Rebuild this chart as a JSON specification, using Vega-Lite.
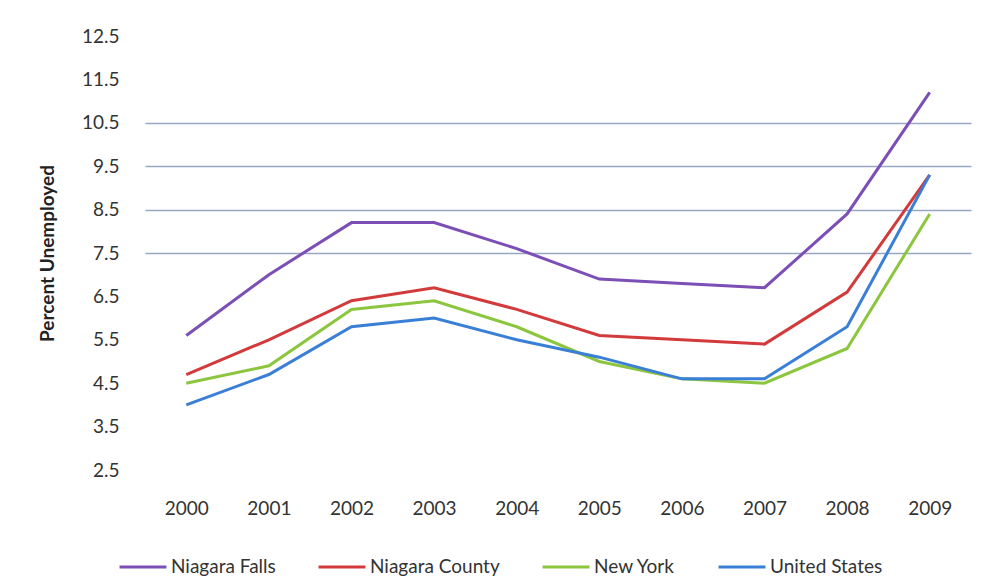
{
  "$schema": "https://vega.github.io/schema/vega-lite/v6.json",
  "autosize": {"type": "none"},
  "width": 826,
  "height": 434,
  "padding": {"left": 145, "top": 36, "right": 12, "bottom": 108},
  "background": "white",
  "config": {
    "view": {"stroke": null},
    "font": "Lato"
  },
  "data": {
    "values": [
      {"year": "2000", "series": "Niagara Falls", "rate": 5.6},
      {"year": "2001", "series": "Niagara Falls", "rate": 7.0},
      {"year": "2002", "series": "Niagara Falls", "rate": 8.2},
      {"year": "2003", "series": "Niagara Falls", "rate": 8.2},
      {"year": "2004", "series": "Niagara Falls", "rate": 7.6},
      {"year": "2005", "series": "Niagara Falls", "rate": 6.9},
      {"year": "2006", "series": "Niagara Falls", "rate": 6.8},
      {"year": "2007", "series": "Niagara Falls", "rate": 6.7},
      {"year": "2008", "series": "Niagara Falls", "rate": 8.4},
      {"year": "2009", "series": "Niagara Falls", "rate": 11.2},
      {"year": "2000", "series": "Niagara County", "rate": 4.7},
      {"year": "2001", "series": "Niagara County", "rate": 5.5},
      {"year": "2002", "series": "Niagara County", "rate": 6.4},
      {"year": "2003", "series": "Niagara County", "rate": 6.7},
      {"year": "2004", "series": "Niagara County", "rate": 6.2},
      {"year": "2005", "series": "Niagara County", "rate": 5.6},
      {"year": "2006", "series": "Niagara County", "rate": 5.5},
      {"year": "2007", "series": "Niagara County", "rate": 5.4},
      {"year": "2008", "series": "Niagara County", "rate": 6.6},
      {"year": "2009", "series": "Niagara County", "rate": 9.3},
      {"year": "2000", "series": "New York", "rate": 4.5},
      {"year": "2001", "series": "New York", "rate": 4.9},
      {"year": "2002", "series": "New York", "rate": 6.2},
      {"year": "2003", "series": "New York", "rate": 6.4},
      {"year": "2004", "series": "New York", "rate": 5.8},
      {"year": "2005", "series": "New York", "rate": 5.0},
      {"year": "2006", "series": "New York", "rate": 4.6},
      {"year": "2007", "series": "New York", "rate": 4.5},
      {"year": "2008", "series": "New York", "rate": 5.3},
      {"year": "2009", "series": "New York", "rate": 8.4},
      {"year": "2000", "series": "United States", "rate": 4.0},
      {"year": "2001", "series": "United States", "rate": 4.7},
      {"year": "2002", "series": "United States", "rate": 5.8},
      {"year": "2003", "series": "United States", "rate": 6.0},
      {"year": "2004", "series": "United States", "rate": 5.5},
      {"year": "2005", "series": "United States", "rate": 5.1},
      {"year": "2006", "series": "United States", "rate": 4.6},
      {"year": "2007", "series": "United States", "rate": 4.6},
      {"year": "2008", "series": "United States", "rate": 5.8},
      {"year": "2009", "series": "United States", "rate": 9.3}
    ]
  },
  "mark": {"type": "line", "strokeWidth": 3},
  "encoding": {
    "x": {
      "field": "year",
      "type": "ordinal",
      "scale": {"type": "point", "padding": 0.5},
      "axis": {
        "title": null,
        "labelAngle": 0,
        "domain": false,
        "ticks": false,
        "grid": false,
        "labelPadding": 29,
        "labelFontSize": 19,
        "labelColor": "#333333"
      }
    },
    "y": {
      "field": "rate",
      "type": "quantitative",
      "scale": {"domain": [2.5, 12.5], "nice": false, "zero": false},
      "axis": {
        "title": "Percent Unemployed",
        "titleFontSize": 19,
        "titleFontWeight": "bold",
        "titleColor": "#222222",
        "titlePadding": 24,
        "values": [2.5, 3.5, 4.5, 5.5, 6.5, 7.5, 8.5, 9.5, 10.5, 11.5, 12.5],
        "format": ".1f",
        "domain": false,
        "ticks": false,
        "labelPadding": 26,
        "labelFontSize": 19,
        "labelColor": "#333333",
        "gridColor": "#98a6c4",
        "gridWidth": 1.3,
        "gridOpacity": {"condition": {"test": "datum.value >= 7.5 && datum.value <= 10.5", "value": 1}, "value": 0}
      }
    },
    "color": {
      "field": "series",
      "type": "nominal",
      "sort": ["Niagara Falls", "Niagara County", "New York", "United States"],
      "scale": {
        "domain": ["Niagara Falls", "Niagara County", "New York", "United States"],
        "range": ["#7b4fb5", "#d23a3c", "#8cc63f", "#3a7fd6"]
      },
      "legend": {
        "title": null,
        "orient": "none",
        "direction": "horizontal",
        "legendX": -27,
        "legendY": 506,
        "symbolType": "stroke",
        "symbolSize": 2200,
        "symbolStrokeWidth": 3,
        "labelFontSize": 19,
        "labelColor": "#333333",
        "labelOffset": 3,
        "columnPadding": 36
      }
    }
  }
}
